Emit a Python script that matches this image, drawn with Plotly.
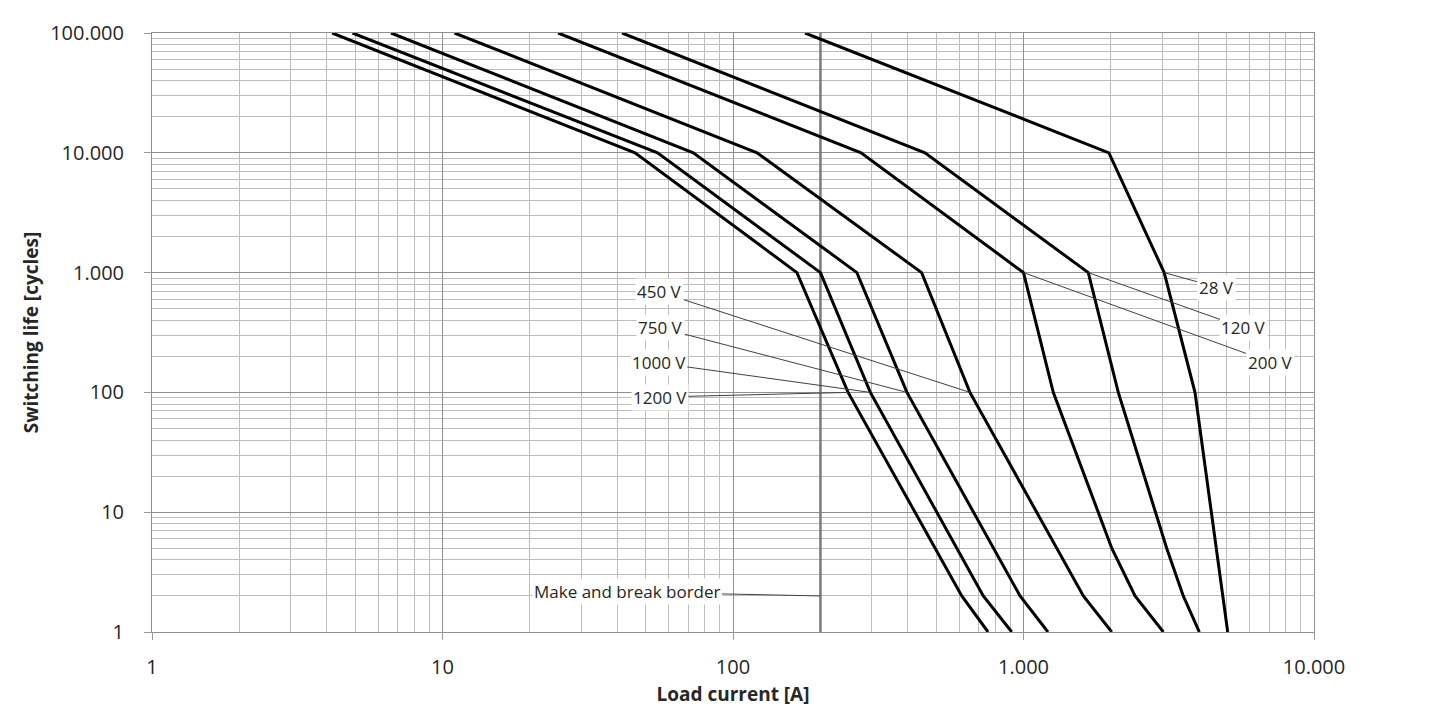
import math
import plotly.graph_objects as go

# Switching life vs. load current
voltages = ["28 V", "120 V", "200 V", "450 V", "750 V", "1000 V", "1200 V"]

current_28v = [177, 1968, 3050, 3893, 5046]
cycles_28v = [100000, 10000, 1000, 100, 1]

current_120v = [41.5, 458, 1671, 2120, 3111, 3548, 4030]
cycles_120v = [100000, 10000, 1000, 100, 5, 2, 1]

current_200v = [25, 276, 1000, 1266, 2013, 2421, 3030]
cycles_200v = [100000, 10000, 1000, 100, 5, 2, 1]

current_450v = [11, 121, 446, 654, 1607, 2013]
cycles_450v = [100000, 10000, 1000, 100, 2, 1]

current_750v = [6.65, 73, 267, 397, 973, 1214]
cycles_750v = [100000, 10000, 1000, 100, 2, 1]

current_1000v = [4.9, 55, 200, 297, 727, 911]
cycles_1000v = [100000, 10000, 1000, 100, 2, 1]

current_1200v = [4.17, 46, 166, 249, 613, 755]
cycles_1200v = [100000, 10000, 1000, 100, 2, 1]

# make and break border at 200 A
border_current = [200, 200]
border_cycles = [1, 100000]

x_tickvals = [1, 10, 100, 1000, 10000]
x_ticktext = ["1", "10", "100", "1.000", "10.000"]
y_tickvals = [1, 10, 100, 1000, 10000, 100000]
y_ticktext = ["1", "10", "100", "1.000", "10.000", "100.000"]

curves = {
    "28 V": (current_28v, cycles_28v),
    "120 V": (current_120v, cycles_120v),
    "200 V": (current_200v, cycles_200v),
    "450 V": (current_450v, cycles_450v),
    "750 V": (current_750v, cycles_750v),
    "1000 V": (current_1000v, cycles_1000v),
    "1200 V": (current_1200v, cycles_1200v),
}

# label box position and the curve point its leader line goes to
labels = {
    "28 V": ((4600, 758), (3050, 1000)),
    "120 V": ((5741, 345), (1671, 1000)),
    "200 V": ((7057, 179), (1000, 1000)),
    "450 V": ((56, 689), (654, 100)),
    "750 V": ((56.5, 345), (397, 100)),
    "1000 V": ((55.5, 176), (297, 100)),
    "1200 V": ((56, 91.5), (249, 100)),
    "Make and break border": ((43.2, 2.16), (200, 2)),
}

font = "Open Sans"
text_color = "#262626"

fig = go.Figure()

fig.add_trace(go.Scatter(x=border_current, y=border_cycles, mode="lines",
                         line=dict(color="#7a7a7a", width=2.5),
                         name="Make and break border", hoverinfo="skip"))

for v in voltages:
    xs, ys = curves[v]
    fig.add_trace(go.Scatter(x=xs, y=ys, mode="lines", name=v,
                             line=dict(color="black", width=3)))

for text, (pos, target) in labels.items():
    fig.add_annotation(
        x=math.log10(target[0]), y=math.log10(target[1]),
        ax=math.log10(pos[0]), ay=math.log10(pos[1]),
        xref="x", yref="y", axref="x", ayref="y",
        text=text, showarrow=True, arrowhead=0, arrowwidth=1,
        arrowcolor="#404040", bgcolor="white",
        font=dict(family=font, size=17, color=text_color),
    )

minor_x = [m * 10 ** e for e in range(0, 4) for m in range(2, 10)]
minor_y = [m * 10 ** e for e in range(0, 5) for m in range(2, 10)]

axis_common = dict(
    type="log",
    showgrid=True, gridcolor="#8f8f8f", gridwidth=1,
    showline=True, linecolor="#8f8f8f", mirror=True,
    ticks="outside", ticklen=7, tickcolor="#9a9a9a",
    tickfont=dict(family=font, size=20, color=text_color),
    zeroline=False,
)

fig.update_xaxes(
    **axis_common,
    range=[0, 4],
    tickmode="array", tickvals=x_tickvals, ticktext=x_ticktext,
    ticklabelstandoff=10,
    minor=dict(tickmode="array", tickvals=minor_x, showgrid=True,
               gridcolor="#bdbdbd", gridwidth=1, ticks=""),
    title=dict(text="<b>Load current [A]</b>", standoff=8,
               font=dict(family=font, size=19, color=text_color)),
)
fig.update_yaxes(
    **axis_common,
    range=[0, 5],
    tickmode="array", tickvals=y_tickvals, ticktext=y_ticktext,
    ticklabelstandoff=16,
    minor=dict(tickmode="array", tickvals=minor_y, showgrid=True,
               gridcolor="#bdbdbd", gridwidth=1, ticks=""),
    title=dict(text="<b>Switching life [cycles]</b>", standoff=6,
               font=dict(family=font, size=19, color=text_color)),
)

# the page puts the figure 8 px in from the corner, margins allow for that
fig.update_layout(
    width=1442, height=717,
    margin=dict(l=144, r=136, t=25, b=93),
    plot_bgcolor="white", paper_bgcolor="white",
    showlegend=False,
)

fig.write_html("out.html")
